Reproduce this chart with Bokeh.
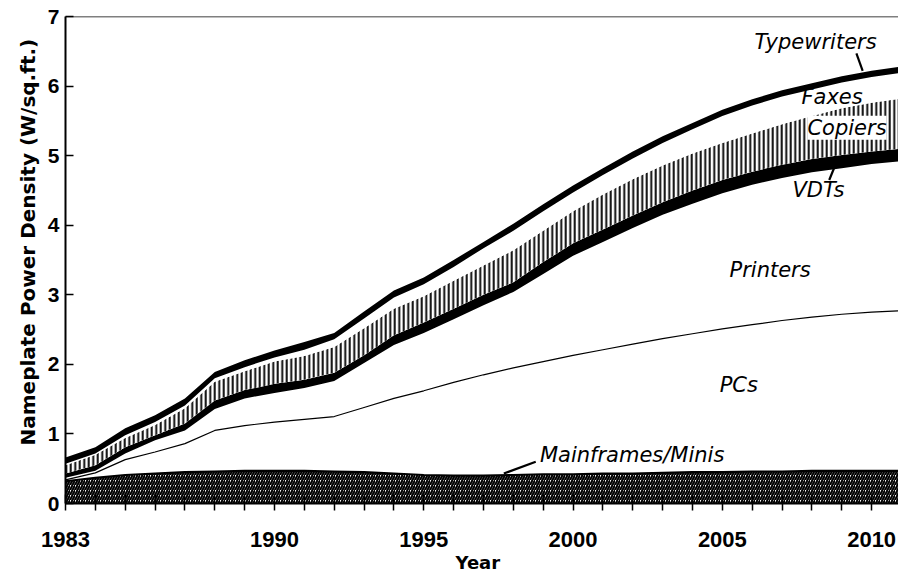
from bokeh.plotting import figure
from bokeh.models import ColumnDataSource, FixedTicker, Span, Label, Range1d, Title
from bokeh.transform import stack
from bokeh.embed import file_html
from bokeh.resources import INLINE

years = list(range(1983, 2012))

# nameplate power density by equipment type (W/sq.ft.), stacked bottom to top
mainframes = [0.32, 0.37, 0.41, 0.43, 0.45, 0.46, 0.47, 0.47, 0.47, 0.46, 0.45, 0.43, 0.41, 0.40, 0.40,
              0.41, 0.42, 0.42, 0.43, 0.43, 0.44, 0.45, 0.45, 0.46, 0.46, 0.47, 0.47, 0.47, 0.47]
pcs = [0.02, 0.07, 0.22, 0.31, 0.41, 0.59, 0.65, 0.70, 0.74, 0.79, 0.93, 1.08, 1.21, 1.34, 1.45,
       1.54, 1.62, 1.71, 1.78, 1.86, 1.93, 1.99, 2.06, 2.11, 2.17, 2.21, 2.25, 2.28, 2.30]
printers = [0.03, 0.03, 0.09, 0.17, 0.19, 0.31, 0.39, 0.42, 0.45, 0.51, 0.64, 0.77, 0.83, 0.91, 1.00,
            1.09, 1.26, 1.43, 1.55, 1.67, 1.78, 1.87, 1.95, 2.01, 2.05, 2.08, 2.10, 2.13, 2.15]
vdts = [0.06, 0.08, 0.09, 0.07, 0.10, 0.12, 0.12, 0.13, 0.12, 0.12, 0.11, 0.14, 0.15, 0.15, 0.15,
        0.14, 0.17, 0.18, 0.18, 0.18, 0.18, 0.19, 0.19, 0.19, 0.19, 0.19, 0.19, 0.18, 0.18]
copiers = [0.12, 0.15, 0.13, 0.15, 0.22, 0.27, 0.27, 0.32, 0.34, 0.37, 0.39, 0.38, 0.38, 0.40, 0.42,
           0.46, 0.45, 0.46, 0.50, 0.52, 0.53, 0.53, 0.53, 0.55, 0.58, 0.62, 0.67, 0.70, 0.72]
faxes = [0.02, 0.02, 0.04, 0.04, 0.04, 0.05, 0.06, 0.06, 0.09, 0.11, 0.14, 0.16, 0.17, 0.20, 0.25,
         0.28, 0.28, 0.27, 0.28, 0.30, 0.32, 0.35, 0.39, 0.40, 0.40, 0.38, 0.37, 0.37, 0.37]
typewriters = [0.09, 0.09, 0.10, 0.10, 0.10, 0.09, 0.10, 0.10, 0.11, 0.09, 0.10, 0.10, 0.10, 0.10, 0.09,
               0.10, 0.10, 0.10, 0.10, 0.10, 0.10, 0.09, 0.09, 0.09, 0.09, 0.09, 0.09, 0.09, 0.09]

x_tick_labels = [1983, 1990, 1995, 2000, 2005, 2010]
y_ticks = [0, 1, 2, 3, 4, 5, 6, 7]

layers = ["mainframes", "pcs", "printers", "vdts", "copiers", "faxes", "typewriters"]
src = ColumnDataSource(dict(year=years, mainframes=mainframes, pcs=pcs, printers=printers,
                            vdts=vdts, copiers=copiers, faxes=faxes, typewriters=typewriters))

p = figure(width=898, height=575, output_backend="svg", toolbar_location=None,
           x_range=Range1d(1983, 2010.9), y_range=Range1d(0, 7),
           min_border_left=65, min_border_right=0, min_border_top=16, min_border_bottom=72)
p.outline_line_color = None
p.xgrid.grid_line_color = None
p.ygrid.grid_line_color = None

styles = {
    "mainframes": dict(fill_color="white", hatch_pattern="/", hatch_color="black", hatch_scale=5, hatch_weight=2.0),
    "pcs": dict(fill_color="white"),
    "printers": dict(fill_color="white"),
    "vdts": dict(fill_color="black"),
    "copiers": dict(fill_color="white", hatch_pattern="|", hatch_color="black", hatch_scale=4.5, hatch_weight=1.9),
    "faxes": dict(fill_color="white"),
    "typewriters": dict(fill_color="black"),
}
for i, name in enumerate(layers):
    y1 = stack(*layers[:i]) if i > 0 else 0
    y2 = stack(*layers[:i + 1])
    p.varea(x="year", y1=y1, y2=y2, source=src, **styles[name])

# boundary lines
p.line(x="year", y=stack("mainframes"), source=src, line_color="black", line_width=2.2)
p.line(x="year", y=stack("mainframes", "pcs"), source=src, line_color="black", line_width=1.2)

# top border line
p.add_layout(Span(location=7, dimension="width", line_color="black", line_width=1.6))

# axes
p.yaxis.ticker = FixedTicker(ticks=y_ticks)
p.yaxis.major_tick_in = 8
p.yaxis.major_tick_out = 0
p.yaxis.minor_tick_line_color = None
p.yaxis.major_tick_line_width = 1.5
p.yaxis.axis_line_width = 2
p.yaxis.major_label_standoff = 6
p.yaxis.major_label_text_font = "Liberation Sans"
p.yaxis.major_label_text_font_style = "bold"
p.yaxis.major_label_text_font_size = "21px"
p.yaxis.major_label_text_color = "black"

p.xaxis.ticker = FixedTicker(ticks=years)
p.xaxis.major_label_overrides = {yr: (str(yr) if yr in x_tick_labels else "") for yr in years}
p.xaxis.major_tick_in = 9
p.xaxis.major_tick_out = 7
p.xaxis.minor_tick_line_color = None
p.xaxis.major_tick_line_width = 1.5
p.xaxis.axis_line_width = 2
p.xaxis.major_label_standoff = 21
p.xaxis.major_label_text_font = "Liberation Sans"
p.xaxis.major_label_text_font_style = "bold"
p.xaxis.major_label_text_font_size = "22px"
p.xaxis.major_label_text_color = "black"

# axis titles as side titles (offset from the frame start)
p.add_layout(Title(text="Nameplate Power Density (W/sq.ft.)", align="left", offset=58, standoff=10,
                   text_font="DejaVu Sans", text_font_style="bold", text_font_size="20px",
                   text_color="black"), "left")
p.add_layout(Title(text="Year", align="left", offset=390, standoff=0,
                   text_font="DejaVu Sans", text_font_style="bold", text_font_size="18px",
                   text_color="black"), "below")

def note(x, y, t, bg=None):
    kw = dict(x=x, y=y, text=t, text_align="left", text_baseline="middle",
              text_font="DejaVu Sans", text_font_style="italic", text_font_size="21px",
              text_color="black")
    if bg:
        kw["background_fill_color"] = bg
    p.add_layout(Label(**kw))

note(2006.08, 6.63, "Typewriters")
note(2007.65, 5.84, "Faxes")
note(2007.85, 5.40, "Copiers", bg="white")
note(2007.35, 4.50, "VDTs")
note(2005.24, 3.35, "Printers")
note(2004.91, 1.71, "PCs")
note(1998.89, 0.69, "Mainframes/Minis")

# leader lines
p.segment(x0=[2009.49, 2008.58, 1998.75], y0=[6.47, 4.65, 0.60],
          x1=[2009.70, 2008.75, 1997.68], y1=[6.22, 4.83, 0.43],
          line_color="black", line_width=2.2)

open("out.html", "w").write(file_html(p, INLINE))
